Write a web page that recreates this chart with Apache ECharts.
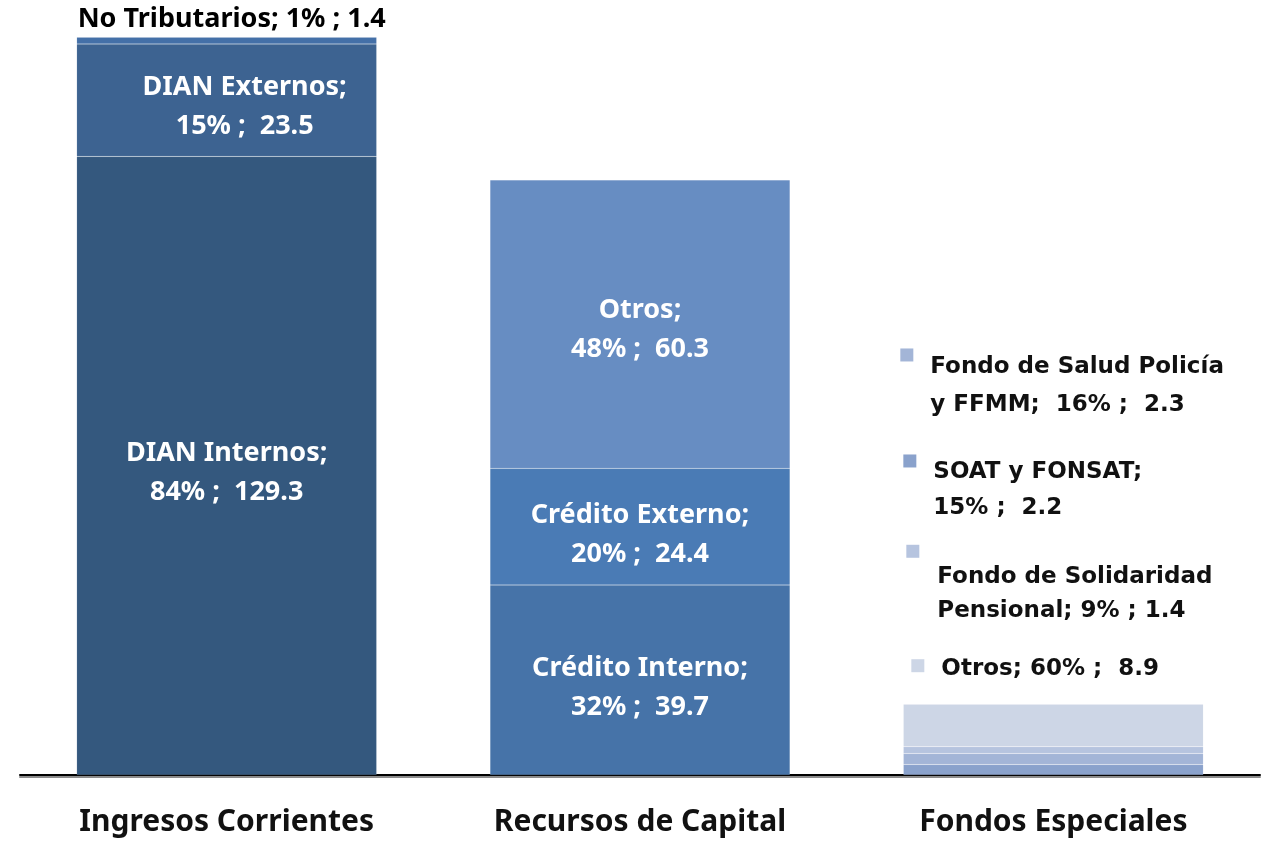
<!DOCTYPE html>
<html>
<head>
<meta charset="utf-8">
<title>Ingresos</title>
<script src="https://cdn.jsdelivr.net/npm/echarts@6/dist/echarts.min.js"></script>
<style>
  html, body { margin: 0; padding: 0; background: #fff; }
  #chart { width: 1266px; height: 841px; }
</style>
</head>
<body>
<div id="chart"></div>
<script>
// categorias del eje x
const categories = ['Ingresos Corrientes', 'Recursos de Capital', 'Fondos Especiales']

// Ingresos Corrientes
const dianInternos = [129.3, null, null]
const dianExternos = [23.5, null, null]
const noTributarios = [1.4, null, null]
// Recursos de Capital
const creditoInterno = [null, 39.7, null]
const creditoExterno = [null, 24.4, null]
const otrosCapital = [null, 60.3, null]
// Fondos Especiales
const soatFonsat = [null, null, 2.2]
const fondoSalud = [null, null, 2.3]
const fondoSolidaridad = [null, null, 1.4]
const otrosFondos = [null, null, 8.9]

const FONT = '"Noto Sans", "DejaVu Sans", sans-serif'
const FONT_WIDE = '"DejaVu Sans", "Noto Sans", sans-serif'

// totales por categoria para los porcentajes
const allSeries = [dianInternos, dianExternos, noTributarios, creditoInterno, creditoExterno,
  otrosCapital, soatFonsat, fondoSalud, fondoSolidaridad, otrosFondos]
const totals = categories.map((c, i) => allSeries.reduce((s, arr) => s + (arr[i] || 0), 0))
const pct = (p) => Math.round(p.value / totals[p.dataIndex] * 100)

// etiqueta blanca centrada dentro de la barra
function insideLabel (title, offset) {
  return {
    show: true,
    position: 'inside',
    offset: offset || [0, 6],
    color: '#fff',
    fontFamily: FONT,
    fontWeight: 'bold',
    fontSize: 27,
    lineHeight: 39,
    formatter: (p) => p.value == null ? '' : title + ';\n' + pct(p) + '% ;  ' + p.value
  }
}

// etiqueta tipo leyenda para los fondos especiales
function fondoLabel (color, lines, lh, pos, markerOwnLine) {
  return {
    show: true,
    position: pos,
    align: 'left',
    verticalAlign: 'top',
    formatter: (p) => {
      if (p.value == null) return ''
      const txt = lines(p)
      if (markerOwnLine) {
        return '{m|}\n' + txt.map(t => '{s|}{t|' + t + '}').join('\n')
      }
      return txt.map((t, i) => (i === 0 ? '{m|}{g|}' : '{s|}') + '{t|' + t + '}').join('\n')
    },
    rich: {
      m: { width: 13, height: 13, lineHeight: 15, backgroundColor: color, verticalAlign: 'top' },
      g: { width: markerOwnLine ? 0 : 17, height: 1 },
      s: { width: markerOwnLine ? 31 : 30, height: 1 },
      t: { color: '#111', fontFamily: FONT_WIDE, fontWeight: 'bold', fontSize: 23, lineHeight: lh }
    }
  }
}

function bar (name, data, color, label) {
  return {
    name: name,
    type: 'bar',
    stack: 'total',
    barWidth: 300,
    data: data,
    itemStyle: { color: color, borderColor: 'rgba(255,255,255,0.18)', borderWidth: 0.5 },
    label: label,
    emphasis: { disabled: true }
  }
}

const chart = echarts.init(document.getElementById('chart'))
chart.setOption({
  animation: false,
  backgroundColor: '#fff',
  grid: { left: 20, right: 6, top: 0, bottom: 66 },
  xAxis: {
    type: 'category',
    data: categories,
    axisTick: { show: false },
    axisLine: {
      lineStyle: { color: '#000', width: 2, shadowColor: 'rgba(0,0,0,0.45)', shadowOffsetY: 2 }
    },
    axisLabel: {
      margin: 32,
      color: '#111',
      fontFamily: FONT,
      fontWeight: 'bold',
      fontSize: 30
    }
  },
  yAxis: {
    type: 'value',
    min: 0,
    max: 162,
    show: false,
    splitLine: { show: false }
  },
  series: [
    bar('DIAN Internos', dianInternos, '#34587e', insideLabel('DIAN Internos', [0, 7])),
    bar('Crédito Interno', creditoInterno, '#4673a8', insideLabel('Crédito Interno', [0, 8])),
    bar('SOAT y FONSAT', soatFonsat, '#8aa2cc',
      fondoLabel('#8aa2cc', p => ['SOAT y FONSAT;', pct(p) + '% ;  ' + p.value], 36, [0, -310])),
    bar('DIAN Externos', dianExternos, '#3d6391', insideLabel('DIAN Externos', [18, 7])),
    bar('Crédito Externo', creditoExterno, '#4a7bb5', insideLabel('Crédito Externo', [0, 8])),
    bar('Fondo de Salud Policía y FFMM', fondoSalud, '#a3b5d7',
      fondoLabel('#a3b5d7', p => ['Fondo de Salud Policía', 'y FFMM;  ' + pct(p) + '% ;  ' + p.value], 38, [-3, -405])),
    bar('No Tributarios', noTributarios, '#4470a8', {
      show: true,
      position: [1, -33],
      align: 'left',
      verticalAlign: 'top',
      color: '#000',
      fontFamily: FONT,
      fontWeight: 'bold',
      fontSize: 27,
      lineHeight: 30,
      formatter: (p) => p.value == null ? '' : 'No Tributarios; ' + pct(p) + '% ; ' + p.value
    }),
    bar('Otros', otrosCapital, '#678dc2', insideLabel('Otros', [0, 6])),
    bar('Fondo de Solidaridad Pensional', fondoSolidaridad, '#b6c4df',
      fondoLabel('#b6c4df', p => ['Fondo de Solidaridad', 'Pensional; ' + pct(p) + '% ; ' + p.value], 34, [3, -202], true)),
    bar('Otros ', otrosFondos, '#cdd6e6',
      fondoLabel('#cdd6e6', p => ['Otros; ' + pct(p) + '% ;  ' + p.value], 20, [8, -45]))
  ]
})
</script>
</body>
</html>
